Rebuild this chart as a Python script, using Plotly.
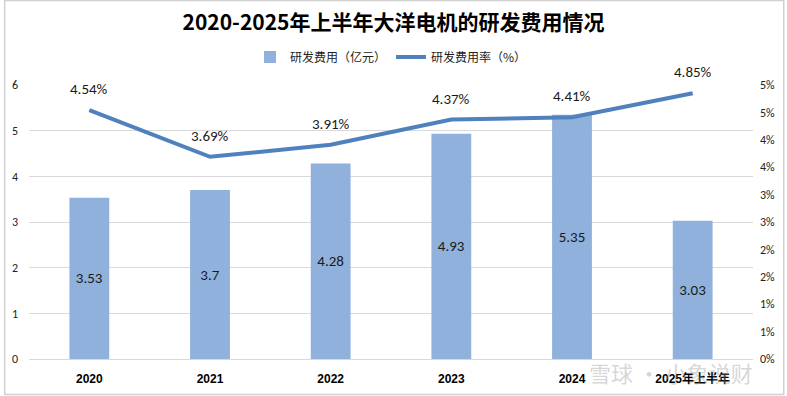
import plotly.graph_objects as go

categories = ["2020", "2021", "2022", "2023", "2024", "2025年上半年"]
rd_expense = [3.53, 3.70, 4.28, 4.93, 5.35, 3.03]
rd_ratio = [4.54, 3.69, 3.91, 4.37, 4.41, 4.85]
rd_expense_labels = ["3.53", "3.7", "4.28", "4.93", "5.35", "3.03"]
rd_ratio_labels = ["4.54%", "3.69%", "3.91%", "4.37%", "4.41%", "4.85%"]
left_ticks = [0, 1, 2, 3, 4, 5, 6]
right_tickvals = [0, 0.5, 1, 1.5, 2, 2.5, 3, 3.5, 4, 4.5, 5]
right_ticktext = ["0%", "1%", "1%", "2%", "2%", "3%", "3%", "4%", "4%", "5%", "5%"]

NUM_FONT = "Carlito, Calibri, 'Liberation Sans', 'Noto Sans CJK SC', sans-serif"
CJK_FONT = "'Noto Sans CJK SC', sans-serif"

fig = go.Figure()
fig.add_trace(go.Bar(
    x=categories, y=rd_expense, name="研发费用（亿元）",
    marker=dict(color="#8fb1dc", line=dict(width=0)),
    width=0.33,
    text=rd_expense_labels, textposition="inside", insidetextanchor="middle",
    textfont=dict(size=15, color="#1a1a1a", family=NUM_FONT),
    textangle=0,
    yaxis="y",
))
fig.add_trace(go.Scatter(
    x=categories, y=rd_ratio, name="研发费用率（%）",
    mode="lines",
    line=dict(color="#4f81bd", width=4),
    yaxis="y2", cliponaxis=False,
))

annotations = []
for i, (v, t) in enumerate(zip(rd_ratio, rd_ratio_labels)):
    annotations.append(dict(x=i, y=v, xref="x", yref="y2", text=t, showarrow=False,
                            yshift=21, font=dict(size=15, color="#1a1a1a", family=NUM_FONT)))
annotations.append(dict(text="雪球 · 小象说财", xref="paper", yref="paper",
                        x=1.003, y=-0.047, xanchor="right", yanchor="middle", showarrow=False,
                        font=dict(size=22, color="rgba(150,150,150,0.4)", family=CJK_FONT)))

fig.update_layout(
    width=787, height=396,
    margin=dict(l=25, r=32, t=85, b=37),
    paper_bgcolor="white", plot_bgcolor="white",
    title=dict(text="<b>2020-2025年上半年大洋电机的研发费用情况</b>",
               x=0.5, xanchor="center", y=0.944, yanchor="middle",
               font=dict(size=21, color="#000000", family=CJK_FONT)),
    legend=dict(orientation="h", x=0.5, xanchor="center", y=1.102, yanchor="middle",
                font=dict(size=12, color="#222222", family=CJK_FONT),
                itemwidth=30, bgcolor="rgba(0,0,0,0)"),
    showlegend=True,
    bargap=0.67,
    xaxis=dict(type="category", range=[-0.5, len(categories) - 0.5], automargin=False,
               showgrid=False, showline=True, linecolor="#d9d9d9", linewidth=1,
               ticks="", ticklabelstandoff=9,
               tickfont=dict(size=12, color="#000000", family="'Liberation Sans', " + CJK_FONT),
               tickprefix="<b>", ticksuffix="</b>"),
    yaxis=dict(range=[0, 6], tickvals=left_ticks, showgrid=True, gridcolor="#d9d9d9",
               gridwidth=1, zeroline=False, showline=False,
               tickfont=dict(size=12, color="#222222", family=NUM_FONT), ticklabelstandoff=10),
    yaxis2=dict(range=[0, 5], overlaying="y", side="right", tickvals=right_tickvals,
                ticktext=right_ticktext, showgrid=False, zeroline=False,
                tickfont=dict(size=12, color="#222222", family=NUM_FONT), ticklabelstandoff=6),
    shapes=[dict(type="rect", xref="paper", yref="paper", x0=-24.5/730, x1=(730+31)/730,
                 y0=-35.5/274, y1=(274+84.5)/274, line=dict(color="#d0d0d0", width=1.5),
                 fillcolor="rgba(0,0,0,0)", layer="below")],
    annotations=annotations,
)

fig.write_html("out.html", config={"displayModeBar": False},
               post_script="document.body.style.margin='0';")
